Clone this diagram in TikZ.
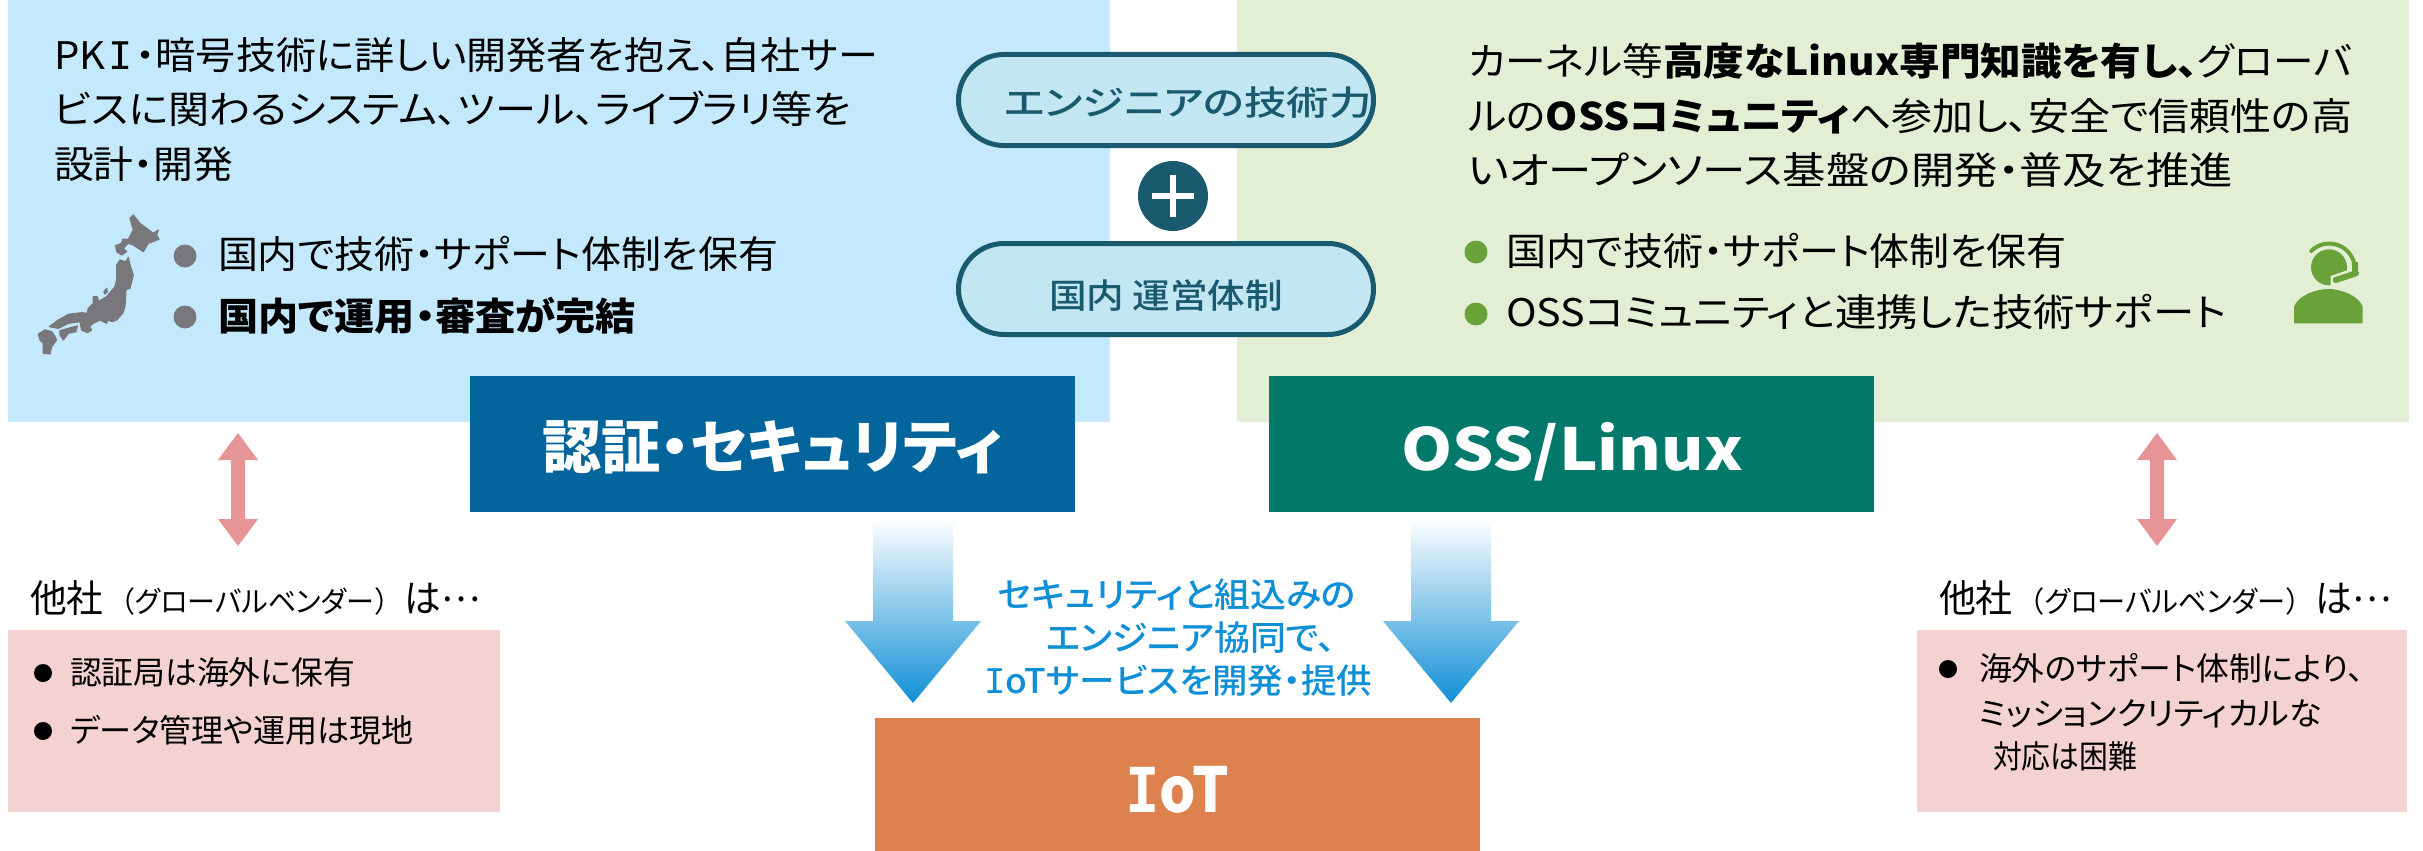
\documentclass[tikz,border=0pt]{standalone}
\usepackage{graphicx}
\usepackage{fontspec}
\usetikzlibrary{shapes.misc}
\setmainfont[RawFeature=+palt]{Noto Sans CJK JP}
\newfontfamily\medfont[RawFeature=+palt]{Noto Sans CJK JP Medium}
\newfontfamily\nopalt{Noto Sans CJK JP}
\newfontfamily\serifi{DejaVu Sans Mono}
\newcommand{\Iser}{{\serifi I}}
\definecolor{bluebg}{HTML}{C5E9FC}
\definecolor{greenbg}{HTML}{E2EFD5}
\definecolor{pillfill}{HTML}{C2E6F2}
\definecolor{pillline}{HTML}{1A5A6E}
\definecolor{headblue}{HTML}{04659D}
\definecolor{headgreen}{HTML}{03796B}
\definecolor{orangebox}{HTML}{DD824E}
\definecolor{pinkbox}{HTML}{F4D2D2}
\definecolor{pinkarrow}{HTML}{E79496}
\definecolor{graymark}{HTML}{78787C}
\definecolor{greenmark}{HTML}{6AA23A}
\definecolor{bluetext}{HTML}{0F8FD6}
\tikzset{
  tl/.style={inner sep=0,outer sep=0,anchor=base west},
  pill/.style={rounded rectangle,draw=pillline,line width=5pt,fill=pillfill,inner sep=0,minimum width=415pt,minimum height=91pt},
  flowarrow/.style={top color=white,bottom color=bluetext,draw=none},
  dblarrow/.style={fill=pinkarrow,draw=none},
  dot/.style={circle,inner sep=0,outer sep=0,minimum size=#1},
  mapland/.style={fill=graymark,draw=graymark,line width=1.2pt,line join=round},
}
\newcommand{\tline}[7][black]{\node[tl,text=#1] (#2) at (#3,#4) {\resizebox{#5pt}{\height}{\fontsize{#6}{#6}\selectfont #7}};}
\newcommand{\dblarr}[1]{\fill[dblarrow] (#1,433) -- (#1+20,460) -- (#1+7,460) -- (#1+7,519) -- (#1+20,519) -- (#1,546) -- (#1-20,519) -- (#1-7,519) -- (#1-7,460) -- (#1-20,460) -- cycle;}
\newcommand{\flowarr}[1]{\shade[flowarrow] (#1-40,518) -- (#1+40,518) -- (#1+40,621) -- (#1+68,621) -- (#1,703) -- (#1-68,621) -- (#1-40,621) -- cycle;}
\newcommand{\othertext}{他社\hspace{4pt}{\fontsize{29}{29}\selectfont{\nopalt （}グローバルベンダー{\nopalt ）}}\hspace{2pt}は\raisebox{11pt}{…}}
\begin{document}
\begin{tikzpicture}[x=1pt,y=-1pt]
\useasboundingbox (0,0) rectangle (2423,851);
\fill[white] (0,0) rectangle (2423,851);
% panels
\fill[bluebg] (8,0) rectangle (1110,422);
\fill[greenbg] (1237,0) rectangle (2409,422);
\fill[pinkbox] (8,630) rectangle (500,812);
\fill[pinkbox] (1917,630) rectangle (2407,812);
% pills
\node[pill] (pill1) at (1166,100) {};
\node[pill] (pill2) at (1166,289) {};
\tline[pillline]{p1}{1004}{116}{368}{34}{\medfont エンジニアの技術力}
\tline[pillline]{p2}{1049}{308}{234}{34}{\medfont 国内 運営体制}
\node[circle,fill=pillline,minimum size=70pt,inner sep=0] (plus) at (1173,196) {};
\fill[white] (1152,193) rectangle (1194,199);
\fill[white] (1170,175) rectangle (1176,217);
% left text
\tline{l1}{54}{69}{824}{38}{PK\hspace{3pt}\Iser\hspace{3pt}・暗号技術に詳しい開発者を抱え、自社サー}
\tline{l2}{54}{124}{797}{38}{ビスに関わるシステム、ツール、ライブラリ等を}
\tline{l3}{54}{178}{179}{38}{設計・開発}
\node[dot=23pt,fill=graymark] (lb1) at (185,256) {};
\node[dot=23pt,fill=graymark] (lb2) at (185,317) {};
\tline{l4}{218}{268}{560}{38}{国内で技術・サポート体制を保有}
\tline{l5}{218}{330}{418}{38}{\textbf{国内で運用・審査が完結}}
% right text
\tline{r1}{1468}{76}{884}{38}{カーネル等\textbf{高度なLinux専門知識を有し、}グローバ}
\tline{r2}{1468}{130}{884}{38}{ルの\textbf{OSSコミュニティ}へ参加し、安全で信頼性の高}
\tline{r3}{1468}{184}{765}{38}{いオープンソース基盤の開発・普及を推進}
\node[dot=23pt,fill=greenmark] (rb1) at (1476,252) {};
\node[dot=23pt,fill=greenmark] (rb2) at (1476,314) {};
\tline{r4}{1506}{265}{561}{38}{国内で技術・サポート体制を保有}
\tline{r5}{1506}{326}{720}{38}{OSSコミュニティと連携した技術サポート}
% Japan
\begin{scope}[shift={(0,180)},x=0.3333pt,y=-0.3333pt]
\filldraw[mapland] (390,115)--(400,105)--(420,130)--(440,145)--(460,160)--(475,150)--(470,165)--(477,178)--(445,190)--(430,215)--(400,195)--(385,190)--(370,205)--(380,215)--(365,225)--(350,215)--(347,197)--(365,190)--(368,178)--(385,178)--(400,150)--cycle;
\filldraw[mapland] (360,240)--(378,245)--(385,232)--(390,255)--(400,285)--(390,325)--(378,328)--(375,380)--(368,400)--(350,420)--(335,425)--(325,420)--(320,430)--(300,420)--(280,430)--(268,440)--(275,450)--(262,458)--(245,450)--(240,425)--(205,430)--(175,445)--(148,440)--(175,420)--(205,403)--(245,398)--(262,400)--(265,385)--(280,370)--(280,350)--(292,350)--(295,365)--(320,350)--(345,320)--(350,300)--(350,255)--cycle;
\filldraw[mapland] (180,452)--(205,445)--(232,438)--(228,455)--(205,460)--(190,480)--(180,465)--cycle;
\filldraw[mapland] (115,462)--(135,450)--(155,455)--(165,470)--(170,480)--(155,500)--(150,522)--(130,520)--(130,490)--(120,480)--cycle;
\filldraw[mapland] (312,335)--(320,325)--(322,335)--(315,342)--cycle;
\end{scope}
% headset
\begin{scope}[shift={(2220,210)},x=0.3333pt,y=-0.3333pt]
\fill[greenmark] (327,172) circle[radius=18pt];
\fill[greenbg] (332,232)--(332,198)--(390,178)--(390,232)--cycle;
\fill[greenmark] (222,340)--(222,290) .. controls (235,255) and (290,237) .. (325,237) .. controls (360,237) and (415,255) .. (428,290) -- (428,340) -- cycle;
\draw[greenmark,line width=4pt,line cap=round] (274,123) .. controls (310,85) and (385,95) .. (403,160);
\fill[greenmark] (395,155) rectangle (413,192);
\draw[greenmark,line width=6pt,line cap=round] (408,190)--(347,210);
\end{scope}
% headers
\node[fill=headblue,inner sep=0,minimum width=605pt,minimum height=136pt] (sec) at (772.5,444) {};
\node[fill=headgreen,inner sep=0,minimum width=605pt,minimum height=136pt] (oss) at (1571.5,444) {};
\tline[white]{sect}{542}{468}{460}{58}{\textbf{認証・セキュリティ}}
\tline[white]{osst}{1401}{470}{342}{58}{\textbf{OSS/Linux}}
% arrows
\flowarr{913}
\flowarr{1451}
\dblarr{238}
\dblarr{2157}
% centre text
\tline[bluetext]{c1}{998}{607}{358}{34}{\medfont セキュリティと組込みの}
\tline[bluetext]{c2}{1046}{650}{290}{34}{\medfont エンジニア協同で、}
\tline[bluetext]{c3}{984}{693}{388}{34}{\medfont \Iser oTサービスを開発・提供}
% IoT
\node[fill=orangebox,inner sep=0,minimum width=605pt,minimum height=133pt] (iot) at (1177.5,784.5) {};
\tline[white]{iott}{1125}{812}{104}{62}{\textbf{{\serifi\bfseries I}oT}}
% others
\tline{o1}{30}{612}{450}{38}{\othertext}
\tline{o2}{1939}{612}{453}{38}{\othertext}
\node[dot=18pt,fill=black] (ob1) at (43,673) {};
\node[dot=18pt,fill=black] (ob2) at (43,731) {};
\tline{o3}{70}{684}{285}{32}{認証局は海外に保有}
\tline{o4}{70}{742}{344}{32}{データ管理や運用は現地}
\node[dot=18pt,fill=black] (ob3) at (1948,669) {};
\tline{o5}{1979}{680}{385}{32}{海外のサポート体制により、}
\tline{o6}{1979}{725}{343}{32}{ミッションクリティカルな}
\tline{o7}{1993}{768}{144}{32}{対応は困難}
\end{tikzpicture}
\end{document}
